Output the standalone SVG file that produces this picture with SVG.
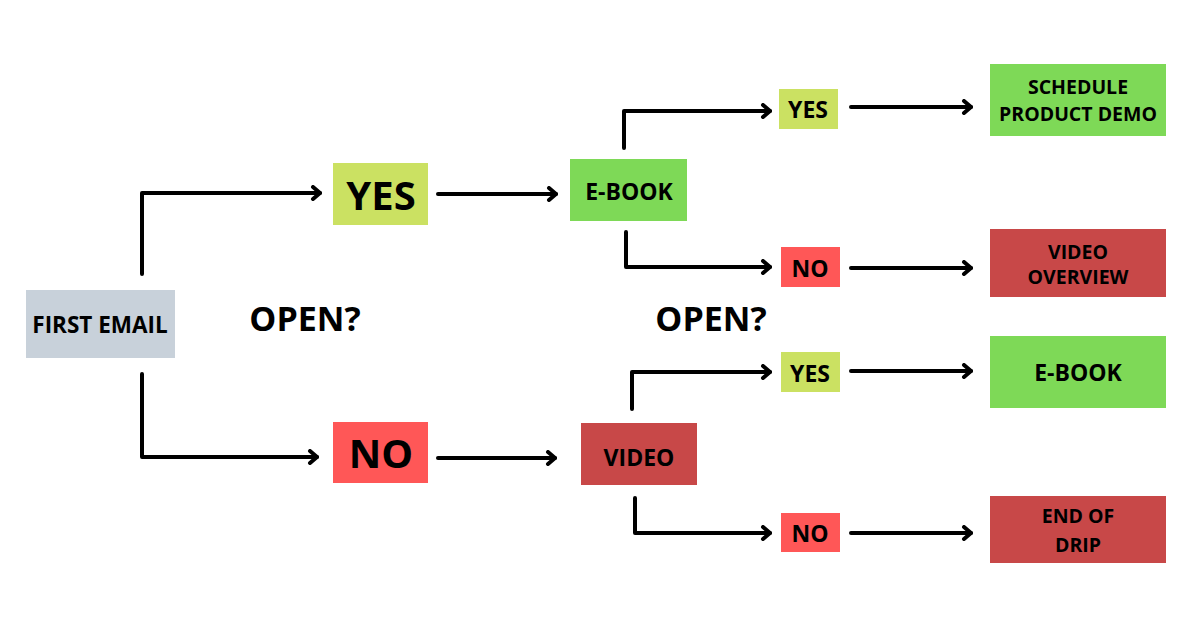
<svg xmlns="http://www.w3.org/2000/svg" width="1200" height="628" viewBox="0 0 1200 628">
<defs>
<style>
.t{font-family:"Open Sans","Liberation Sans",sans-serif;font-weight:bold;fill:#000;text-anchor:middle}
.big{font-size:40px}
.mid{font-size:23px}
.sm{font-size:19.5px}
.q{font-size:34px}
.c{fill:none;stroke:#000;stroke-width:4;stroke-linecap:round;stroke-linejoin:round}
.gray{fill:#c8d1da}
.lime{fill:#cbe162}
.red{fill:#ff5757}
.green{fill:#7ed957}
.dred{fill:#c84848}
</style>
<marker id="ah" viewBox="0 0 12 16" refX="10" refY="8" markerWidth="12" markerHeight="16" markerUnits="userSpaceOnUse" orient="auto">
<path d="M3,2 L10,8 L3,14" fill="none" stroke="#000" stroke-width="4" stroke-linecap="round" stroke-linejoin="round"/>
</marker>
</defs>
<rect width="1200" height="628" fill="#fff"/>
<g id="connectors">
<path class="c" d="M142,274 V193 H320" marker-end="url(#ah)"/>
<path class="c" d="M142,374 V457 H317" marker-end="url(#ah)"/>
<path class="c" d="M438,194 H556" marker-end="url(#ah)"/>
<path class="c" d="M438,458 H555" marker-end="url(#ah)"/>
<path class="c" d="M624,148 V111 H770" marker-end="url(#ah)"/>
<path class="c" d="M626,232 V267 H770" marker-end="url(#ah)"/>
<path class="c" d="M632,409 V372 H770" marker-end="url(#ah)"/>
<path class="c" d="M635,498 V533 H770" marker-end="url(#ah)"/>
<path class="c" d="M851,107 H971" marker-end="url(#ah)"/>
<path class="c" d="M851,268 H971" marker-end="url(#ah)"/>
<path class="c" d="M851,371 H971" marker-end="url(#ah)"/>
<path class="c" d="M851,533 H971" marker-end="url(#ah)"/>
</g>
<g id="first-email"><rect class="gray" x="26" y="290" width="149" height="68"/><text class="t" x="100" y="333" font-size="22.5">FIRST EMAIL</text></g>
<g id="open1"><text class="t q" x="305" y="331">OPEN?</text></g>
<g id="open2"><text class="t q" x="711" y="331">OPEN?</text></g>
<g id="yes1"><rect class="lime" x="333" y="163" width="95" height="62"/><text class="t big" x="381" y="210">YES</text></g>
<g id="no1"><rect class="red" x="333" y="422" width="95" height="61"/><text class="t big" x="381" y="468">NO</text></g>
<g id="ebook1"><rect class="green" x="570" y="159" width="117" height="62"/><text class="t mid" x="629" y="200">E-BOOK</text></g>
<g id="video1"><rect class="dred" x="581" y="423" width="116" height="62"/><text class="t mid" x="639" y="466">VIDEO</text></g>
<g id="yes2"><rect class="lime" x="779" y="89" width="59" height="40"/><text class="t mid" x="808" y="118">YES</text></g>
<g id="no2"><rect class="red" x="781" y="247" width="59" height="40"/><text class="t mid" x="810" y="277">NO</text></g>
<g id="yes3"><rect class="lime" x="781" y="352" width="59" height="40"/><text class="t mid" x="810" y="382">YES</text></g>
<g id="no3"><rect class="red" x="781" y="513" width="59" height="39"/><text class="t mid" x="810" y="542">NO</text></g>
<g id="schedule"><rect class="green" x="990" y="64" width="176" height="72"/><text class="t sm" x="1078" y="94">SCHEDULE</text><text class="t sm" x="1078" y="121">PRODUCT DEMO</text></g>
<g id="video-overview"><rect class="dred" x="990" y="229" width="176" height="68"/><text class="t sm" x="1078" y="259">VIDEO</text><text class="t sm" x="1078" y="284">OVERVIEW</text></g>
<g id="ebook2"><rect class="green" x="990" y="336" width="176" height="72"/><text class="t mid" x="1078" y="381">E-BOOK</text></g>
<g id="end-drip"><rect class="dred" x="990" y="496" width="176" height="67"/><text class="t sm" x="1078" y="523">END OF</text><text class="t sm" x="1078" y="552">DRIP</text></g>
</svg>
